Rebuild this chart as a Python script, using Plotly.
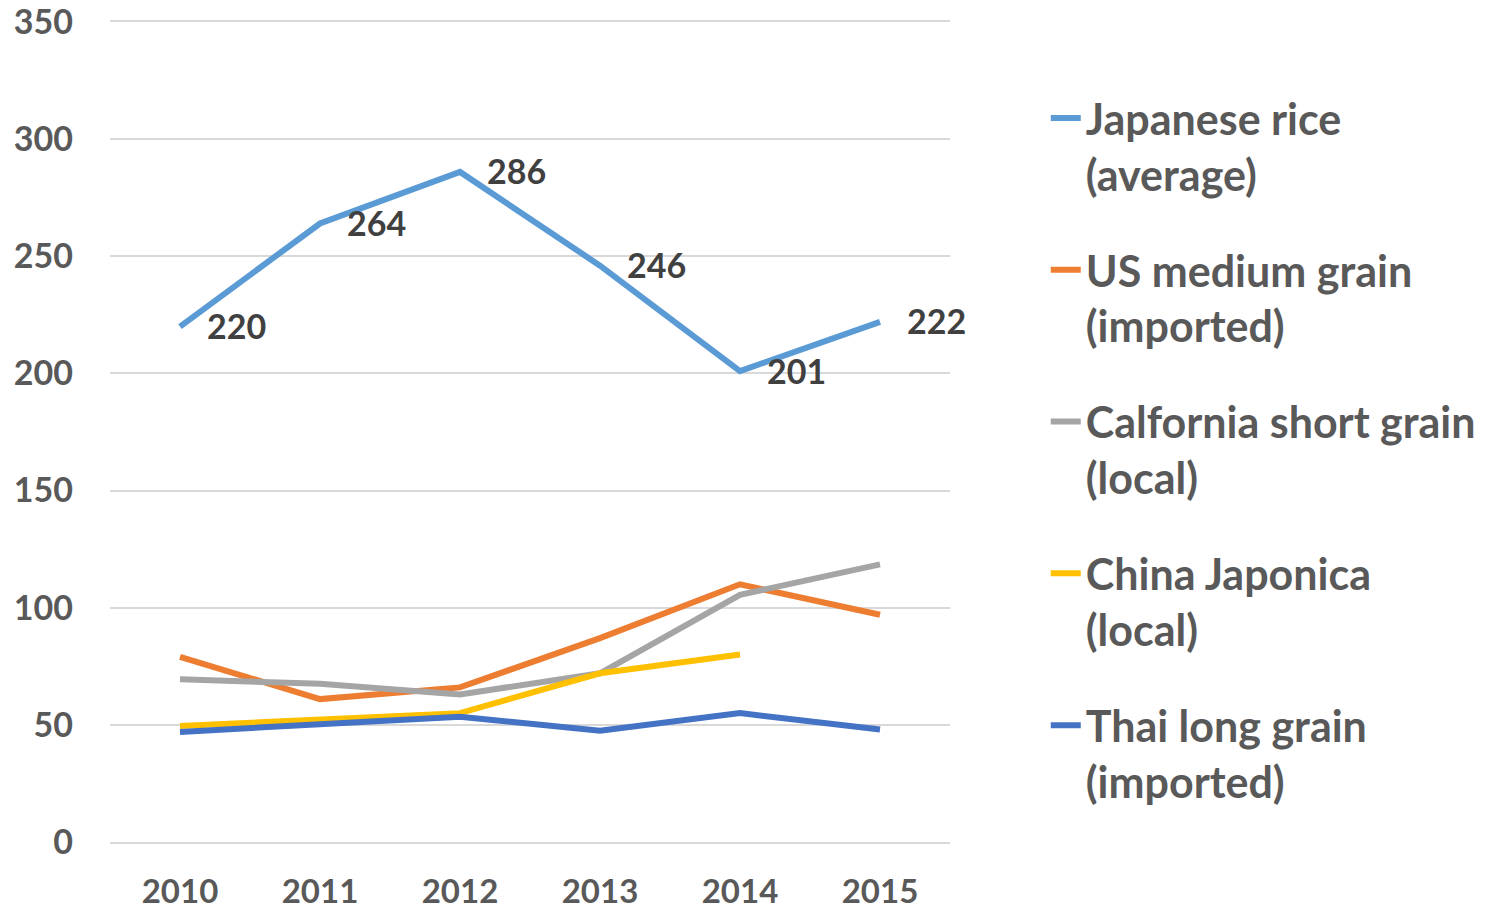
import plotly.graph_objects as go

years = ["2010", "2011", "2012", "2013", "2014", "2015"]
series_names = [
    "Japanese rice<br>(average)",
    "US medium grain<br>(imported)",
    "Calfornia short grain<br>(local)",
    "China Japonica<br>(local)",
    "Thai long grain<br>(imported)",
]
japanese_rice = [220, 264, 286, 246, 201, 222]
us_medium = [79, 61, 66, 87, 110, 97]
california_short = [69.5, 67.5, 63, 72, 105.5, 118.5]
china_japonica = [49.5, 52, 55, 72, 80, None]
thai_long = [47, 50.5, 53.5, 47.5, 55, 48]
colors = ["#5B9BD5", "#ED7D31", "#A5A5A5", "#FFC000", "#4472C4"]
y_ticks = [0, 50, 100, 150, 200, 250, 300, 350]

all_series = [japanese_rice, us_medium, california_short, china_japonica, thai_long]

FONT = "Lato"

fig = go.Figure()
for i, (name, vals, col) in enumerate(zip(series_names, all_series, colors)):
    fig.add_trace(go.Scatter(
        x=years, y=vals, name=name, mode="lines",
        line=dict(color=col, width=6),
        legendgroup=f"g{i}",
        connectgaps=False,
    ))

for i, v in enumerate(japanese_rice):
    fig.add_annotation(
        x=i, y=v, xref="x", yref="y", text=str(v), showarrow=False,
        xanchor="left", yanchor="middle", xshift=25, yshift=1,
        font=dict(family=FONT, size=34, color="#404040", weight="bold"),
    )

# the page body adds an 8px offset, so the figure is 8px smaller on each side
fig.update_layout(
    width=1485, height=902,
    paper_bgcolor="white", plot_bgcolor="white",
    margin=dict(l=102, r=543, t=14, b=68),
    showlegend=True,
    legend=dict(
        x=1.114, xanchor="left", y=0.925, yanchor="top",
        font=dict(family=FONT, size=43, color="#595959", weight="bold"),
        valign="top", tracegroupgap=37, traceorder="grouped",
        bgcolor="rgba(0,0,0,0)",
    ),
)
fig.update_xaxes(
    type="category", range=[-0.5, 5.5], showgrid=False,
    showline=True, mirror=True, linecolor="#D9D9D9", linewidth=2,
    zeroline=False, ticks="", automargin=False,
    tickfont=dict(family=FONT, size=33, color="#595959", weight="bold"),
    ticklabelstandoff=19, ticklabeloverflow="allow",
)
fig.update_yaxes(
    range=[0, 350], tickvals=y_ticks, showgrid=True, gridcolor="#D9D9D9",
    gridwidth=2, zeroline=False, showline=False, ticks="", automargin=False,
    tickfont=dict(family=FONT, size=34, color="#595959", weight="bold"),
    ticklabelstandoff=36, ticklabeloverflow="allow",
)

fig.write_html("out.html")
